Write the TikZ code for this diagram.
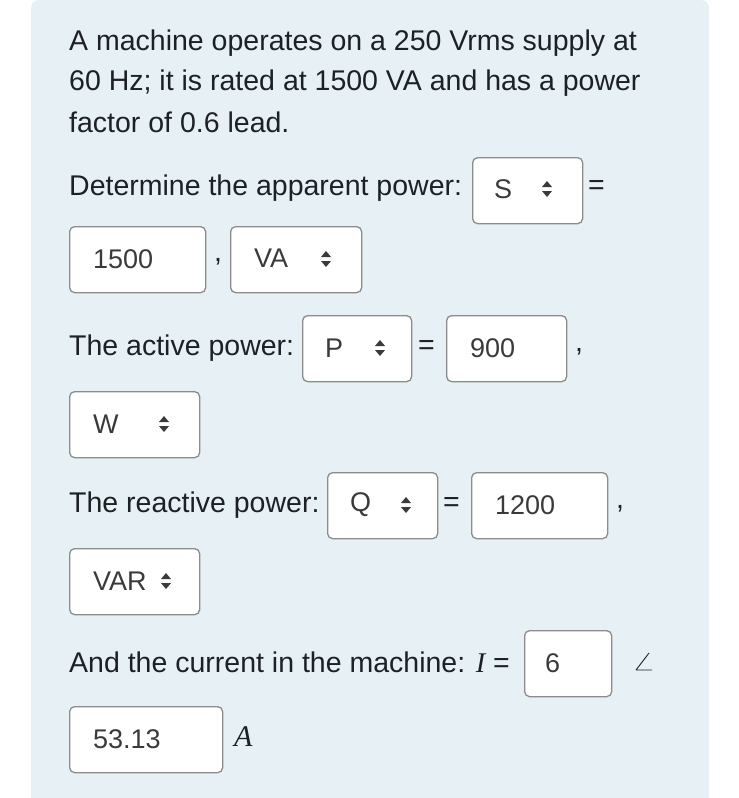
\documentclass[tikz,border=0pt]{standalone}
\usepackage{fontspec}
\setmainfont{Liberation Sans}
\newfontfamily\serifit{Liberation Serif}
\definecolor{panel}{HTML}{E7F1F5}
\definecolor{bord}{HTML}{8C8C8C}
\definecolor{txt}{HTML}{1D2125}
\definecolor{btxt}{HTML}{3A3A3A}
\begin{document}
\begin{tikzpicture}[x=1pt,y=-1pt,
  box/.style={draw=bord,fill=white,line width=1.3pt,rounded corners=5pt,anchor=north west,inner sep=0pt},
  lbl/.style={anchor=west,inner sep=0pt,text=txt,font=\fontsize{28.5}{32}\selectfont},
  btx/.style={anchor=west,inner sep=0pt,text=btxt,font=\fontsize{27}{30}\selectfont},
  tri/.style={fill=btxt,draw=none}]
\useasboundingbox (0,0) rectangle (739,798);
\fill[white] (0,0) rectangle (739,798);
\fill[panel,rounded corners=8pt] (31,0) rectangle (709,820);
\newcommand\updown[2]{\fill[tri] (#1-5,#2-2) -- (#1+5,#2-2) -- (#1,#2-8) -- cycle;
  \fill[tri] (#1-5,#2+2) -- (#1+5,#2+2) -- (#1,#2+8) -- cycle;}
\node[lbl] (l1) at (69,43) {A machine operates on a 250 Vrms supply at};
\node[lbl] (l2) at (69,83) {60 Hz; it is rated at 1500 VA and has a power};
\node[lbl] (l3) at (69,122) {factor of 0.6 lead.};
% row S
\node[lbl] (q1) at (69,188) {Determine the apparent power:};
\node[box,minimum width=110pt,minimum height=66pt] (bS) at (472,157) {};
\node[btx] (tS) at (494,189) {S}; \updown{547}{189}
\node[lbl] (e1) at (588,188) {=};
\node[box,minimum width=136pt,minimum height=66pt] (b1500) at (69,226) {};
\node[btx] (t1500) at (93,259) {1500};
\node[lbl] (c1) at (214,262) {,};
\node[box,minimum width=131pt,minimum height=66pt] (bVA) at (230,226) {};
\node[btx] (tVA) at (254,258) {VA}; \updown{326}{259}
% row P
\node[lbl] (q2) at (69,348) {The active power:};
\node[box,minimum width=109pt,minimum height=66pt] (bP) at (302,315) {};
\node[btx] (tP) at (325,348) {P}; \updown{380}{348}
\node[lbl] (e2) at (418,348) {=};
\node[box,minimum width=120pt,minimum height=66pt] (b900) at (446,315) {};
\node[btx] (t900) at (470,348) {900};
\node[lbl] (c2) at (575,352) {,};
\node[box,minimum width=130pt,minimum height=66pt] (bW) at (69,391) {};
\node[btx] (tW) at (93,424) {W}; \updown{164}{424}
% row Q
\node[lbl] (q3) at (69,505) {The reactive power:};
\node[box,minimum width=110pt,minimum height=66pt] (bQ) at (327,472) {};
\node[btx] (tQ) at (350,505) {Q}; \updown{406}{505}
\node[lbl] (e3) at (443,505) {=};
\node[box,minimum width=136pt,minimum height=66pt] (b1200) at (471,472) {};
\node[btx] (t1200) at (495,505) {1200};
\node[lbl] (c3) at (616,509) {,};
\node[box,minimum width=130pt,minimum height=66pt] (bVAR) at (69,548) {};
\node[btx] (tVAR) at (93,581) {VAR}; \updown{166}{581}
% row I
\node[lbl] (q4) at (69,662) {And the current in the machine: {\serifit\itshape I} =};
\node[box,minimum width=87pt,minimum height=66pt] (b6) at (524,630) {};
\node[btx] (t6) at (545,663) {6};
\draw[txt,line width=0.9pt] (636,670) -- (652,670) (636,670) -- (649,653);
\node[box,minimum width=153pt,minimum height=66pt] (b53) at (69,706) {};
\node[btx] (t53) at (93,739) {53.13};
\node[lbl,font=\fontsize{30}{32}\selectfont\serifit\itshape] (tA) at (234,737) {A};
\end{tikzpicture}
\end{document}
